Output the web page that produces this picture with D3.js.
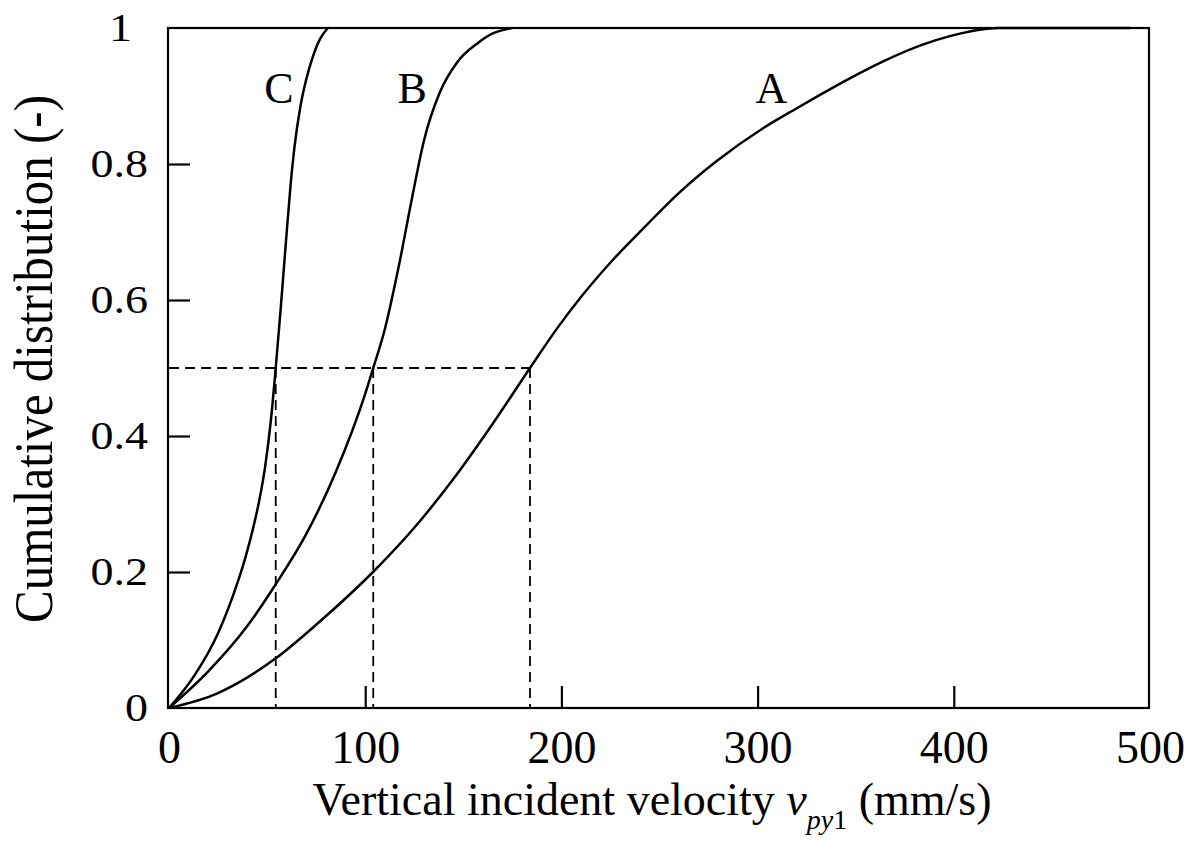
<!DOCTYPE html>
<html>
<head>
<meta charset="utf-8">
<script src="https://cdn.jsdelivr.net/npm/d3@7/dist/d3.min.js"></script>
<style>
  html, body { margin: 0; padding: 0; background: #fff; }
  svg { display: block; }
  text { font-family: "Liberation Serif", "Times New Roman", serif; fill: #000; }
</style>
</head>
<body>
<svg id="chart" width="1195" height="841"></svg>
<script>
// ---- data ----
const xTicks = [0, 100, 200, 300, 400, 500];
const yTicks = [0, 0.2, 0.4, 0.6, 0.8, 1];
const yTickLabels = ["0", "0.2", "0.4", "0.6", "0.8", "1"];

const seriesA = [[0,0],[25,0.022],[40,0.045],[54.4,0.073],[76,0.125],[104,0.2],[125,0.265],[145,0.337],
  [165,0.418],[184,0.5],[198,0.559],[211,0.608],[225.6,0.657],[242,0.706],[259,0.755],[279,0.804],
  [303,0.853],[320,0.882],[332,0.902],[347,0.926],[364,0.951],[384.5,0.976],[398,0.988],[410,0.996],
  [423,1],[490,1]];
const seriesB = [[0,0],[20,0.054],[40,0.121],[54.4,0.182],[70,0.256],[85,0.347],[100,0.462],[104.1,0.5],
  [110,0.557],[117,0.648],[124,0.752],[130,0.835],[138,0.905],[147,0.95],[157,0.977],[165,0.992],[175,1]];
const seriesC = [[0,0],[13,0.048],[25,0.11],[35,0.185],[39,0.222],[43,0.266],[46,0.305],[49,0.355],
  [52,0.425],[54.4,0.5],[57,0.59],[60,0.7],[62,0.77],[64,0.826],[67,0.885],[70,0.925],[73,0.955],
  [77,0.984],[81,1]];

const medianLevel = 0.5;
const medians = [54.4, 104.1, 184];

const curveLabels = [["A", 307, 0.889], ["B", 124, 0.889], ["C", 56, 0.889]];

// ---- layout ----
const svg = d3.select("#chart");
const x = d3.scaleLinear().domain([0, 500]).range([169, 1150]);
const y = d3.scaleLinear().domain([0, 1]).range([708, 28]);

// frame
svg.append("rect")
  .attr("x", x(0) - 1).attr("y", y(1))
  .attr("width", x(500) - x(0)).attr("height", y(0) - y(1))
  .attr("fill", "none").attr("stroke", "#000").attr("stroke-width", 2.2);

// x axis
const xAxis = d3.axisBottom(x).tickValues(xTicks).tickFormat(d3.format("d"))
  .tickSizeInner(-22).tickSizeOuter(0).tickPadding(22);
const gx = svg.append("g").attr("transform", `translate(0,${y(0)})`).call(xAxis);
gx.select(".domain").remove();
gx.selectAll(".tick line").attr("stroke-width", 2.2)
  .attr("display", d => (d === 0 || d === 500) ? "none" : null);
gx.selectAll(".tick text").attr("font-size", 46).attr("font-family", "Liberation Serif");

// y axis
const yAxis = d3.axisLeft(y).tickValues(yTicks).tickFormat((d, i) => yTickLabels[i])
  .tickSizeInner(-22).tickSizeOuter(0).tickPadding(20);
const gy = svg.append("g").attr("transform", `translate(${x(0) - 1},0)`).call(yAxis);
gy.select(".domain").remove();
gy.selectAll(".tick line").attr("stroke-width", 2.2)
  .attr("display", d => (d === 0 || d === 1) ? "none" : null);
gy.selectAll(".tick text")
  .attr("font-size", 40).attr("font-family", "Liberation Serif")
  .attr("x", 0).attr("dy", "0.32em")
  .attr("transform", d => `translate(${d === 1 ? -36 : -20},0) scale(1.15,1)`);

// dashed median guides
const dashG = svg.append("g").attr("stroke", "#000").attr("stroke-width", 1.8)
  .attr("stroke-dasharray", "10,6").attr("fill", "none");
dashG.append("line")
  .attr("x1", x(0)).attr("x2", x(d3.max(medians)))
  .attr("y1", y(medianLevel)).attr("y2", y(medianLevel));
dashG.selectAll("line.v").data(medians).enter().append("line").attr("class", "v")
  .attr("x1", d => x(d)).attr("x2", d => x(d))
  .attr("y1", y(medianLevel)).attr("y2", y(0));

// curves
const line = d3.line().x(d => x(d[0])).y(d => y(d[1])).curve(d3.curveMonotoneX);
[seriesA, seriesB, seriesC].forEach(s => {
  svg.append("path").datum(s).attr("d", line)
    .attr("fill", "none").attr("stroke", "#000").attr("stroke-width", 2.5)
    .attr("stroke-linejoin", "round");
});

// curve labels
svg.selectAll("text.clabel").data(curveLabels).enter().append("text")
  .attr("class", "clabel")
  .attr("x", d => x(d[1])).attr("y", d => y(d[2]))
  .attr("text-anchor", "middle").attr("font-size", 44)
  .text(d => d[0]);

// x title
const xt = svg.append("text").attr("x", 652).attr("y", 815)
  .attr("text-anchor", "middle").attr("font-size", 46);
xt.append("tspan").text("Vertical incident velocity ");
xt.append("tspan").attr("font-style", "italic").text("v");
xt.append("tspan").attr("font-size", 28).attr("dy", 14).attr("font-style", "italic").text("py");
xt.append("tspan").attr("font-size", 28).text("1");
xt.append("tspan").attr("dy", -14).text(" (mm/s)");

// y title
svg.append("text")
  .attr("transform", `translate(52,359) rotate(-90) scale(1,1.12)`)
  .attr("text-anchor", "middle").attr("font-size", 49)
  .text("Cumulative distribution (-)");
</script>
</body>
</html>
